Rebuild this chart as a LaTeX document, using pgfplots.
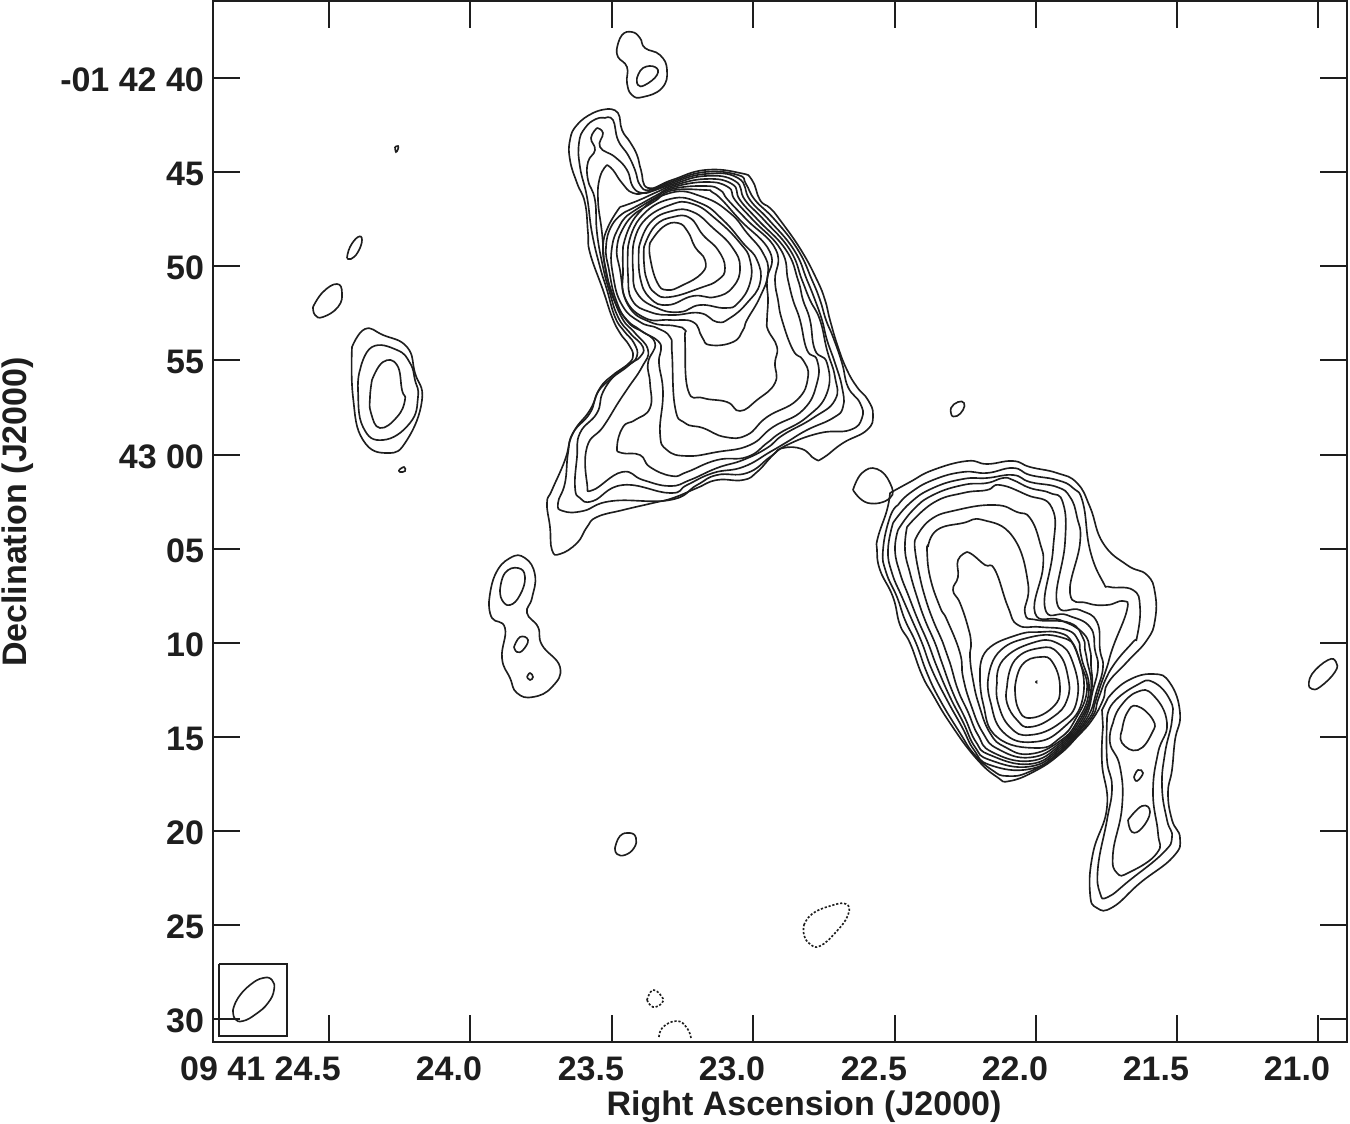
\documentclass[border=0pt]{standalone}
\usepackage{pgfplots}
\pgfplotsset{compat=1.18}
\usepackage{fontspec}
\setmainfont{Liberation Sans}
\definecolor{ink}{HTML}{1E1E1E}
\pgfplotsset{
  c/.style={ink,line width=0.82pt,smooth,tension=0.8,mark=none,forget plot},
  d/.style={ink,line width=0.82pt,smooth,tension=0.8,mark=none,forget plot,dash pattern=on 1.1pt off 0.9pt},
  s/.style={ink,line width=0.82pt,sharp plot,mark=none,forget plot}
}
\begin{document}
\begin{tikzpicture}[x=1pt,y=1pt]
\path[use as bounding box] (0,0) rectangle (675,562);
\begin{axis}[
  at={(106.5pt,41pt)},anchor=south west,
  scale only axis,width=567pt,height=520.5pt,
  xmin=213,xmax=1347,ymin=1,ymax=1042,y dir=reverse,
  axis line style={ink,line width=1pt},
  every tick/.style={ink,line width=0.9pt},
  major tick length=13.5pt,
  tick align=inside,
  xtick={329,470,612,753,895,1036,1177,1318},
  xticklabels={09 41 24.5\hspace{-2pt},24.0,23.5,23.0,22.5,22.0,21.5,21.0},
  ytick={78,172,266,360,455,549,643,737,831,925,1019},
  yticklabels={-01 42 40,45,50,55,43 00,05,10,15,20,25,30},
  tick label style={font=\fontsize{17}{20}\selectfont\bfseries,text=ink},
  xticklabel style={anchor=north east,xshift=9.5pt,yshift=-4pt},
  yticklabel style={anchor=east,xshift=-1pt,yshift=-1pt},
  xlabel={Right Ascension (J2000)},
  ylabel={Declination (J2000)},
  every axis x label/.style={at={(axis cs:804,1107)},anchor=center,font=\fontsize{17}{20}\selectfont\bfseries,text=ink},
  every axis y label/.style={at={(axis cs:18,512)},anchor=center,rotate=90,font=\fontsize{17}{20}\selectfont\bfseries,text=ink},
]
% north lobe
\addplot[c] coordinates {(608,109)(618,113)(622,130)(630,142)(637,155)(641,170)(648,188)(672,180)(705,170)(740,173)(752,180)(760,200)(770,208)(780,220)(801,250)(817,280)(825,300)(830,320)(838,347)(847,370)(857,387)(868,400)(873,415)(867,430)(843,443)(823,458)(815,459)(802,449)(783,448)(773,455)(757,472)(743,480)(717,480)(697,488)(673,498)(653,503)(623,510)(597,517)(587,527)(577,543)(560,554)(552,550)(550,527)(547,503)(552,490)(565,460)(573,433)(590,410)(600,388)(613,375)(627,365)(633,356)(629,345)(620,333)(612,317)(603,290)(590,253)(588,233)(585,203)(577,183)(570,160)(570,140)(577,125)(593,113)(608,109)};
\addplot[c] coordinates {(605,118)(613,120)(618,140)(628,155)(635,170)(640,185)(650,190)(672,181.5)(705,172)(738,175)(746,184)(755,200)(775,220)(798,250)(812,280)(820,300)(826,320)(833,337)(842,363)(848,387)(860,403)(862,418)(850,430)(820,433)(787,445)(770,457)(747,473)(717,475)(697,485)(670,500)(612,501)(583,511)(563,511)(558,503)(565,483)(568,453)(573,433)(590,413)(598,392)(612,378)(628,366)(637,356)(634,343)(624,331)(615,317)(607,290)(600,267)(592,233)(587,197)(580,167)(579,143)(585,128)(596,119)(605,118)};
\addplot[c] coordinates {(597,128)(603,133)(600,147)(615,157)(627,170)(633,187)(643,193)(655,190)(672,183)(705,174)(738,178)(750,200)(769,220)(794,250)(807,280)(815,300)(822,320)(827,340)(835,363)(842,387)(843,407)(833,418)(807,430)(787,442)(770,452)(743,467)(713,473)(687,485)(670,493)(623,485)(593,501)(580,498)(575,487)(577,457)(580,433)(597,413)(603,392)(617,373)(633,362)(640,357)(643,347)(630,333)(618,317)(609,290)(603,267)(597,233)(595,200)(588,180)(588,162)(595,150)(591,138)(597,128)};
\addplot[c] coordinates {(607,165)(613,170)(622,183)(633,193)(648,192)(672,184.5)(705,176)(735,181)(745,200)(764,220)(790,250)(802,280)(810,300)(820,320)(827,350)(835,377)(835,400)(813,418)(783,435)(767,448)(743,460)(717,468)(690,480)(670,486)(643,480)(622,472)(593,490)(587,483)(587,447)(603,427)(618,403)(628,388)(642,367)(648,350)(635,333)(622,318)(611,290)(605,267)(602,233)(598,200)(600,177)(607,165)};
\addplot[c] coordinates {(620,207)(637,201)(657,192)(672,186)(705,179)(732,184)(740,200)(758,220)(786,250)(798,280)(803,300)(810,320)(815,350)(827,363)(827,393)(807,417)(780,433)(767,443)(747,457)(717,460)(687,472)(672,476)(650,467)(640,455)(622,453)(617,447)(623,427)(635,420)(650,408)(650,383)(648,363)(655,343)(640,330)(627,320)(614,300)(606,270)(603,247)(608,227)(620,207)};
\addplot[c] coordinates {(625,212)(637,206)(657,195)(672,187.5)(705,182)(728,187)(735,200)(753,220)(781,250)(788,280)(793,300)(800,320)(807,350)(817,360)(817,383)(803,410)(773,427)(750,445)(717,452)(687,456)(667,450)(660,433)(663,393)(659,363)(661,350)(658,341)(643,332)(628,322)(616,300)(609,270)(606,247)(612,225)(625,212)};
\addplot[c] coordinates {(628,215)(637,209)(655,198)(672,189)(705,186)(720,190)(728,200)(747,220)(776,250)(775,280)(778,300)(782,320)(793,350)(803,360)(808,377)(797,400)(767,417)(747,435)(725,437)(703,428)(685,423)(675,407)(672,353)(670,337)(657,328)(640,322)(622,305)(613,275)(612,247)(620,225)(628,215)};
\addplot[c] coordinates {(637,212)(655,201)(672,190.5)(705,190)(712,192)(722,200)(740,220)(770,252)(767,280)(768,300)(767,320)(768,330)(777,347)(775,363)(775,383)(757,400)(740,411)(727,402)(703,398)(688,390)(685,340)(685,330)(675,326)(650,322)(628,305)(620,270)(617,247)(625,225)(637,212)};
\addplot[c] coordinates {(623,247)(637,215)(670,193)(703,197)(730,213)(747,233)(763,253)(768,273)(760,297)(747,320)(743,330)(733,342)(710,345)(702,337)(693,322)(670,320)(645,318)(625,298)(623,270)(623,247)};
\addplot[c] coordinates {(628,247)(640,218)(670,199)(700,203)(723,220)(743,243)(757,260)(760,283)(747,303)(730,318)(717,322)(700,313)(673,315)(650,312)(632,300)(628,275)(628,247)};
\addplot[c] coordinates {(633,247)(643,222)(670,205)(693,204)(717,220)(740,243)(750,260)(750,283)(738,303)(725,308)(700,305)(680,312)(657,308)(637,293)(633,270)(633,247)};
\addplot[c] coordinates {(639,247)(650,223)(672,211)(693,212)(713,228)(732,247)(740,267)(733,287)(715,297)(693,296)(668,305)(650,298)(640,277)(639,247)};
\addplot[c] coordinates {(644,247)(655,226)(673,217)(690,218)(703,235)(718,250)(725,268)(718,280)(700,288)(670,297)(655,293)(647,280)(644,263)(644,247)};
\addplot[c] coordinates {(650,243)(663,227)(678,223)(688,232)(695,247)(705,260)(702,273)(683,285)(667,290)(657,282)(650,257)(650,243)};
% south lobe
\addplot[c] coordinates {(890,493)(910,482)(933,470)(967,461)(987,464)(1013,461)(1030,467)(1057,473)(1077,483)(1090,507)(1103,543)(1127,565)(1147,575)(1155,593)(1155,620)(1147,640)(1127,662)(1108,683)(1103,700)(1092,720)(1077,737)(1060,754)(1037,770)(1010,781)(997,777)(975,757)(950,723)(933,695)(922,675)(910,643)(900,625)(893,597)(880,570)(877,550)(878,537)(887,510)(890,493)};
\addplot[c] coordinates {(898,505)(910,493)(933,480)(963,472)(987,473)(1013,468)(1030,475)(1057,480)(1073,488)(1083,503)(1090,550)(1103,582)(1110,587)(1133,590)(1140,607)(1137,637)(1133,642)(1115,663)(1104,683)(1098,700)(1090,720)(1060,752.5)(1030,771.5)(1007,776)(992,770)(974,754)(960,733)(940,700)(927,673)(916,643)(905,620)(897,597)(886,572)(883,550)(890,517)(898,505)};
\addplot[c] coordinates {(893,523)(910,503)(933,488)(963,479)(987,478)(1013,475)(1030,482)(1057,487)(1070,497)(1077,517)(1080,543)(1070,593)(1087,603)(1107,605)(1123,601)(1127,610)(1113,647)(1107,667)(1100,687)(1095,703)(1088,720)(1060,751)(1030,769)(990,765)(974,750)(962,727)(947,700)(932,670)(922,643)(912,620)(902,597)(892,573)(888,550)(893,523)};
\addplot[c] coordinates {(898,530)(913,510)(933,495)(963,485)(987,483)(1003,478)(1013,480)(1030,488)(1050,493)(1063,503)(1065,543)(1057,603)(1080,610)(1097,622)(1100,650)(1103,667)(1097,690)(1086,720)(1060,749)(1030,766.5)(990,760)(975,747)(963,722)(950,697)(937,667)(928,643)(918,620)(909,597)(900,573)(895,550)(898,530)};
\addplot[c] coordinates {(907,527)(933,503)(963,493)(987,490)(1000,485)(1027,495)(1052,508)(1053,550)(1045,608)(1067,615)(1090,627)(1095,650)(1098,667)(1093,690)(1084,720)(1060,747)(1030,764)(990,755)(976,742)(965,718)(953,693)(942,663)(935,643)(925,620)(917,597)(910,573)(905,550)(907,527)};
\addplot[c] coordinates {(915,540)(930,520)(957,510)(995,505)(1017,512)(1030,518)(1040,543)(1043,567)(1035,613)(1060,620)(1083,633)(1090,650)(1091,665)(1091.5,690)(1082,720)(1060,745)(1030,761)(992,752)(978,735)(968,712)(958,690)(950,663)(943,643)(933,620)(925,597)(919,573)(915,550)(915,540)};
\addplot[c] coordinates {(928,547)(937,530)(963,523)(983,520)(1013,537)(1028,583)(1025,613)(1037,620)(1070,623)(1083,638)(1085,650)(1087,660)(1091,690)(1080,720)(1060,743)(1030,757.5)(998,749)(983,733)(971,705)(963,677)(960,653)(947,620)(940,607)(930,577)(927,550)(928,547)};
\addplot[c] coordinates {(967,552)(973,555)(985,565)(995,570)(1008,607)(1018,625)(1040,627)(1067,630)(1078,640)(1080,650)(1082,660)(1089,690)(1078,720)(1060,741)(1030,754)(1005,747)(990,733)(979,705)(973,680)(970,657)(971,643)(968,627)(960,603)(953,590)(958,577)(958,560)(967,552)};
\addplot[c] coordinates {(980,673)(987,650)(1017,635)(1040,632)(1060,633)(1072,642)(1080,662)(1087,690)(1075,720)(1060,738)(1037,748)(997,737)(983,703)(980,673)};
\addplot[c] coordinates {(988,680)(998,653)(1027,638)(1060,637)(1077,653)(1083,697)(1063,728)(1033,742)(1003,732)(990,700)(988,680)};
\addplot[c] coordinates {(997,683)(1003,660)(1032,643)(1057,643)(1073,663)(1077,700)(1060,723)(1030,735)(1010,727)(998,703)(997,683)};
\addplot[c] coordinates {(1007,687)(1015,660)(1040,648)(1058,653)(1068,677)(1067,700)(1053,717)(1030,727)(1017,720)(1007,703)(1007,687)};
\addplot[c] coordinates {(1015,687)(1022,665)(1040,657)(1053,663)(1060,688)(1053,707)(1030,718)(1018,708)(1015,687)};
\addplot[c] coordinates {(1035.5,682)(1036.5,681.5)(1036.5,682.5)(1035.5,682)};
% right lobe
\addplot[s] coordinates {(1103,727)(1102,710)(1108,698)};
\addplot[c] coordinates {(1108,698)(1127,681)(1153,674)(1170,683)(1180,713)(1175,740)(1172,770)(1168,793)(1172,820)(1180,838)(1173,857)(1140,883)(1113,907)(1097,908)(1090,893)(1093,853)(1107,807)(1102,763)(1103,727)};
\addplot[c] coordinates {(1107,720)(1113,703)(1137,685)(1153,682)(1170,700)(1172,720)(1165,753)(1162,787)(1167,820)(1172,837)(1163,853)(1130,880)(1108,897)(1100,893)(1098,867)(1107,820)(1112,787)(1107,760)(1107,720)};
\addplot[c] coordinates {(1113,723)(1120,707)(1137,692)(1153,695)(1167,723)(1158,753)(1153,793)(1158,833)(1157,853)(1130,872)(1117,873)(1113,853)(1122,807)(1120,767)(1110,743)(1113,723)};
\addplot[c] coordinates {(1122,730)(1127,713)(1137,706)(1153,720)(1152,733)(1138,750)(1122,743)(1122,730)};
\addplot[c] coordinates {(1134,777)(1138,770)(1143,773)(1137,781)(1134,777)};
\addplot[c] coordinates {(1128,820)(1142,806)(1150,812)(1142,828)(1132,832)(1128,820)};
% isolated contours
\addplot[c] coordinates {(853,490)(862,473)(877,469)(890,483)(890,498)(868,503)(853,490)};
\addplot[c] coordinates {(952,416)(951,408)(958,402)(964,403)(963,410)(957,416)(952,416)};
\addplot[c] coordinates {(1309,686)(1312,674)(1328,660)(1336,662)(1335,672)(1320,687)(1312,689)(1309,686)};
\addplot[c] coordinates {(615,848)(620,836)(630,833)(636,838)(634,848)(625,855)(617,854)(615,848)};
\addplot[c] coordinates {(617,48)(622,35)(632,32)(640,38)(645,48)(660,55)(667,70)(662,88)(643,97)(632,95)(627,83)(627,67)(618,57)(617,48)};
\addplot[c] coordinates {(637,78)(643,68)(655,67)(657,75)(645,85)(638,85)(637,78)};
\addplot[c] coordinates {(395,147)(398,146)(398,149)(396,152)(395,147)};
\addplot[c] coordinates {(347,258)(350,247)(358,237)(362,240)(358,252)(351,259)(347,258)};
\addplot[c] coordinates {(313,307)(323,292)(337,284)(342,293)(338,307)(323,317)(315,315)(313,307)};
\addplot[c] coordinates {(352,347)(365,329)(383,335)(407,347)(415,373)(422,400)(407,440)(388,453)(363,440)(353,397)(352,347)};
\addplot[c] coordinates {(360,370)(372,347)(397,350)(410,363)(415,380)(418,397)(410,423)(383,440)(363,427)(358,390)(360,370)};
\addplot[c] coordinates {(372,380)(383,362)(397,365)(402,390)(405,400)(397,417)(380,428)(371,413)(370,397)(372,380)};
\addplot[c] coordinates {(399,470)(404,467)(405,471)(400,472)(399,470)};
\addplot[c] coordinates {(489,602)(495,575)(510,558)(525,558)(535,575)(532,598)(527,613)(538,627)(542,645)(560,667)(552,687)(533,697)(517,693)(510,678)(502,658)(505,628)(492,618)(489,602)};
\addplot[c] coordinates {(500,590)(505,573)(518,568)(525,577)(520,595)(510,605)(502,600)(500,590)};
\addplot[c] coordinates {(514,647)(520,637)(528,640)(523,650)(517,652)(514,647)};
\addplot[c] coordinates {(527,677)(530,673)(533,677)(530,680)(527,677)};
% negative contours
\addplot[d] coordinates {(804,925)(812,914)(830,906)(846,904)(848,915)(836,932)(820,946)(810,944)(804,935)(804,925)};
\addplot[d] coordinates {(647,1000)(653,990)(662,997)(662,1003)(653,1007)(647,1000)};
\addplot[d] coordinates {(659,1037)(663,1027)(677,1021)(687,1028)(691,1038)};
% beam
\addplot[s] coordinates {(219,964)(287,964)(287,1036)(219,1036)(219,964)};
\addplot[c] coordinates {(233,1010)(238,998)(250,985)(263,978)(272,980)(274,990)(268,1003)(256,1014)(243,1021)(235,1019)(233,1010)};
\end{axis}
\end{tikzpicture}
\end{document}
